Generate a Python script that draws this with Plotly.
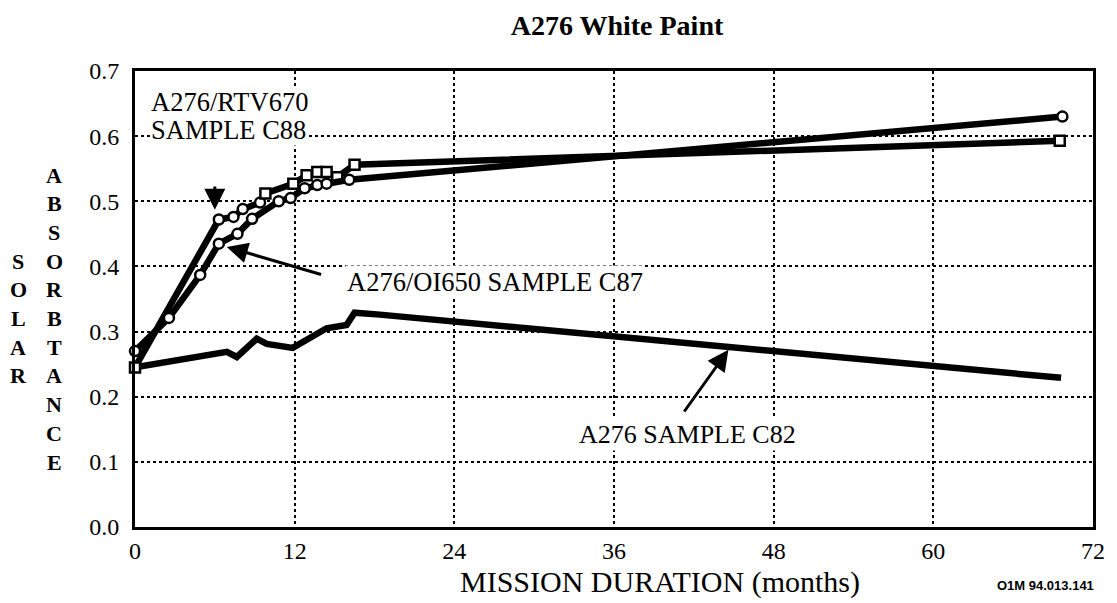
import plotly.graph_objects as go

# ---- data (months, solar absorptance) ----
c88_months = [0, 2.55, 4.9, 6.3, 7.7, 8.8, 10.8, 11.7, 12.75, 13.7, 14.4, 16.1, 69.7]
c88_values = [0.27, 0.321, 0.387, 0.435, 0.45, 0.473, 0.50, 0.505, 0.52, 0.525, 0.527, 0.533, 0.63]

c87_months = [0, 6.3, 7.4, 8.1, 9.4, 9.8, 11.9, 12.9, 13.7, 14.4, 15.2, 16.5, 69.5]
c87_values = [0.245, 0.472, 0.476, 0.488, 0.498, 0.512, 0.527, 0.54, 0.545, 0.545, 0.537, 0.556, 0.593]

c82_months = [0, 6.9, 7.65, 9.15, 9.9, 11.85, 13.3, 14.4, 15.9, 16.5, 18.4, 69.6]
c82_values = [0.245, 0.269, 0.261, 0.289, 0.281, 0.275, 0.292, 0.305, 0.31, 0.329, 0.326, 0.229]

x_ticks = [0, 12, 24, 36, 48, 60, 72]
y_ticks = [0.0, 0.1, 0.2, 0.3, 0.4, 0.5, 0.6, 0.7]

SERIF = "Liberation Serif"

fig = go.Figure()

fig.add_trace(go.Scatter(
    x=c82_months, y=c82_values, mode="lines",
    line=dict(color="black", width=6.5), cliponaxis=False, showlegend=False))

sq_symbols = ["square"] + ["circle"] * 4 + ["square"] * 8
fig.add_trace(go.Scatter(
    x=c87_months, y=c87_values, mode="lines+markers",
    line=dict(color="black", width=6.5),
    marker=dict(symbol=sq_symbols, size=10, color="white",
                line=dict(color="black", width=2.5)),
    cliponaxis=False, showlegend=False))

fig.add_trace(go.Scatter(
    x=c88_months, y=c88_values, mode="lines+markers",
    line=dict(color="black", width=6.5),
    marker=dict(symbol="circle", size=10, color="white",
                line=dict(color="black", width=2.5)),
    cliponaxis=False, showlegend=False))

W, H = 1117, 603
L, R, T, B = 135, 24, 71, 76
PW, PH = W - L - R, H - T - B
Y0 = H - B  # pixel row of the x axis


def px_x(xp):
    return (xp - L) / PW


def px_y(yp):
    return (Y0 - yp) / PH


fig.update_layout(
    width=W, height=H,
    margin=dict(l=L, r=R, t=T, b=B),
    paper_bgcolor="white", plot_bgcolor="white",
    font=dict(family=SERIF, color="black"),
    title=dict(text="<b>A276 White Paint</b>", x=617 / W, xanchor="center",
               y=1 - 25 / H, yanchor="middle",
               font=dict(family=SERIF, size=28, color="black")),
)

fig.update_xaxes(
    range=[0, 72], tickvals=x_ticks, ticktext=[str(v) for v in x_ticks],
    showgrid=True, gridcolor="black", gridwidth=2, griddash="dot",
    showline=True, linecolor="black", linewidth=3, mirror=True,
    zeroline=False, ticks="", ticklabelstandoff=0,
    tickfont=dict(family=SERIF, size=24, color="black"),
)
fig.update_yaxes(
    range=[0, 0.7], tickvals=y_ticks, ticktext=[f"{v:.1f}" for v in y_ticks],
    showgrid=True, gridcolor="black", gridwidth=2, griddash="dot",
    showline=True, linecolor="black", linewidth=3, mirror=True,
    zeroline=False, ticks="", ticklabelstandoff=8,
    tickfont=dict(family=SERIF, size=24, color="black"),
)

ann = []
# series labels
lab_font = dict(family=SERIF, size=26.5, color="black")
ann.append(dict(x=px_x(150), y=px_y(102), xref="paper", yref="paper", text="A276/RTV670",
                xanchor="left", yanchor="middle",
                showarrow=False, font=lab_font, bgcolor="white", borderpad=0))
ann.append(dict(x=px_x(150), y=px_y(130), xref="paper", yref="paper", text="SAMPLE C88",
                xanchor="left", yanchor="middle",
                showarrow=False, font=lab_font, bgcolor="white", borderpad=0))
ann.append(dict(x=px_x(345), y=px_y(282), xref="paper", yref="paper", text="A276/OI650 SAMPLE C87",
                xanchor="left", yanchor="middle",
                showarrow=False, font=lab_font, bgcolor="white", borderpad=1))
ann.append(dict(x=px_x(577), y=px_y(434), xref="paper", yref="paper", text="A276 SAMPLE C82",
                xanchor="left", yanchor="middle",
                showarrow=False, font=dict(family=SERIF, size=26, color="black"),
                bgcolor="white", borderpad=1))


# arrows
def arrow(tip, tail):
    return dict(x=tip[0], y=tip[1], ax=tail[0], ay=tail[1], xref="x", yref="y",
                axref="x", ayref="y", text="", showarrow=True, arrowhead=2,
                arrowsize=1.4, arrowwidth=3, arrowcolor="black", standoff=0,
                startstandoff=0)


ann.append(arrow((6.0, 0.487), (6.0, 0.525)))
ann.append(arrow((6.9, 0.43), (14.1, 0.387)))
ann.append(arrow((44.6, 0.272), (41.2, 0.175)))

# x axis title and code
ann.append(dict(x=px_x(660), y=px_y(582), xref="paper", yref="paper",
                text="MISSION DURATION (months)", showarrow=False,
                xanchor="center", yanchor="middle",
                font=dict(family=SERIF, size=30, color="black")))
ann.append(dict(x=px_x(1045), y=px_y(585), xref="paper", yref="paper",
                text="<b>O1M 94.013.141</b>", showarrow=False,
                xanchor="center", yanchor="middle",
                font=dict(family="Liberation Sans", size=13, color="black")))


# vertical stacked y-axis title
def stacked(word, xc, first_y, step=28.7, size=22):
    out = []
    for i, ch in enumerate(word):
        out.append(dict(x=px_x(xc), y=px_y(first_y + i * step),
                        xref="paper", yref="paper", text=f"<b>{ch}</b>",
                        showarrow=False, xanchor="center", yanchor="middle",
                        font=dict(family=SERIF, size=size, color="black")))
    return out


ann += stacked("SOLAR", 18, 175 + 3 * 28.7)
ann += stacked("ABSORBTANCE", 54, 175)

fig.update_layout(annotations=ann)

fig.write_html("out.html", config={"displayModeBar": False},
               post_script="document.body.style.margin='0';document.body.style.overflow='hidden';")
